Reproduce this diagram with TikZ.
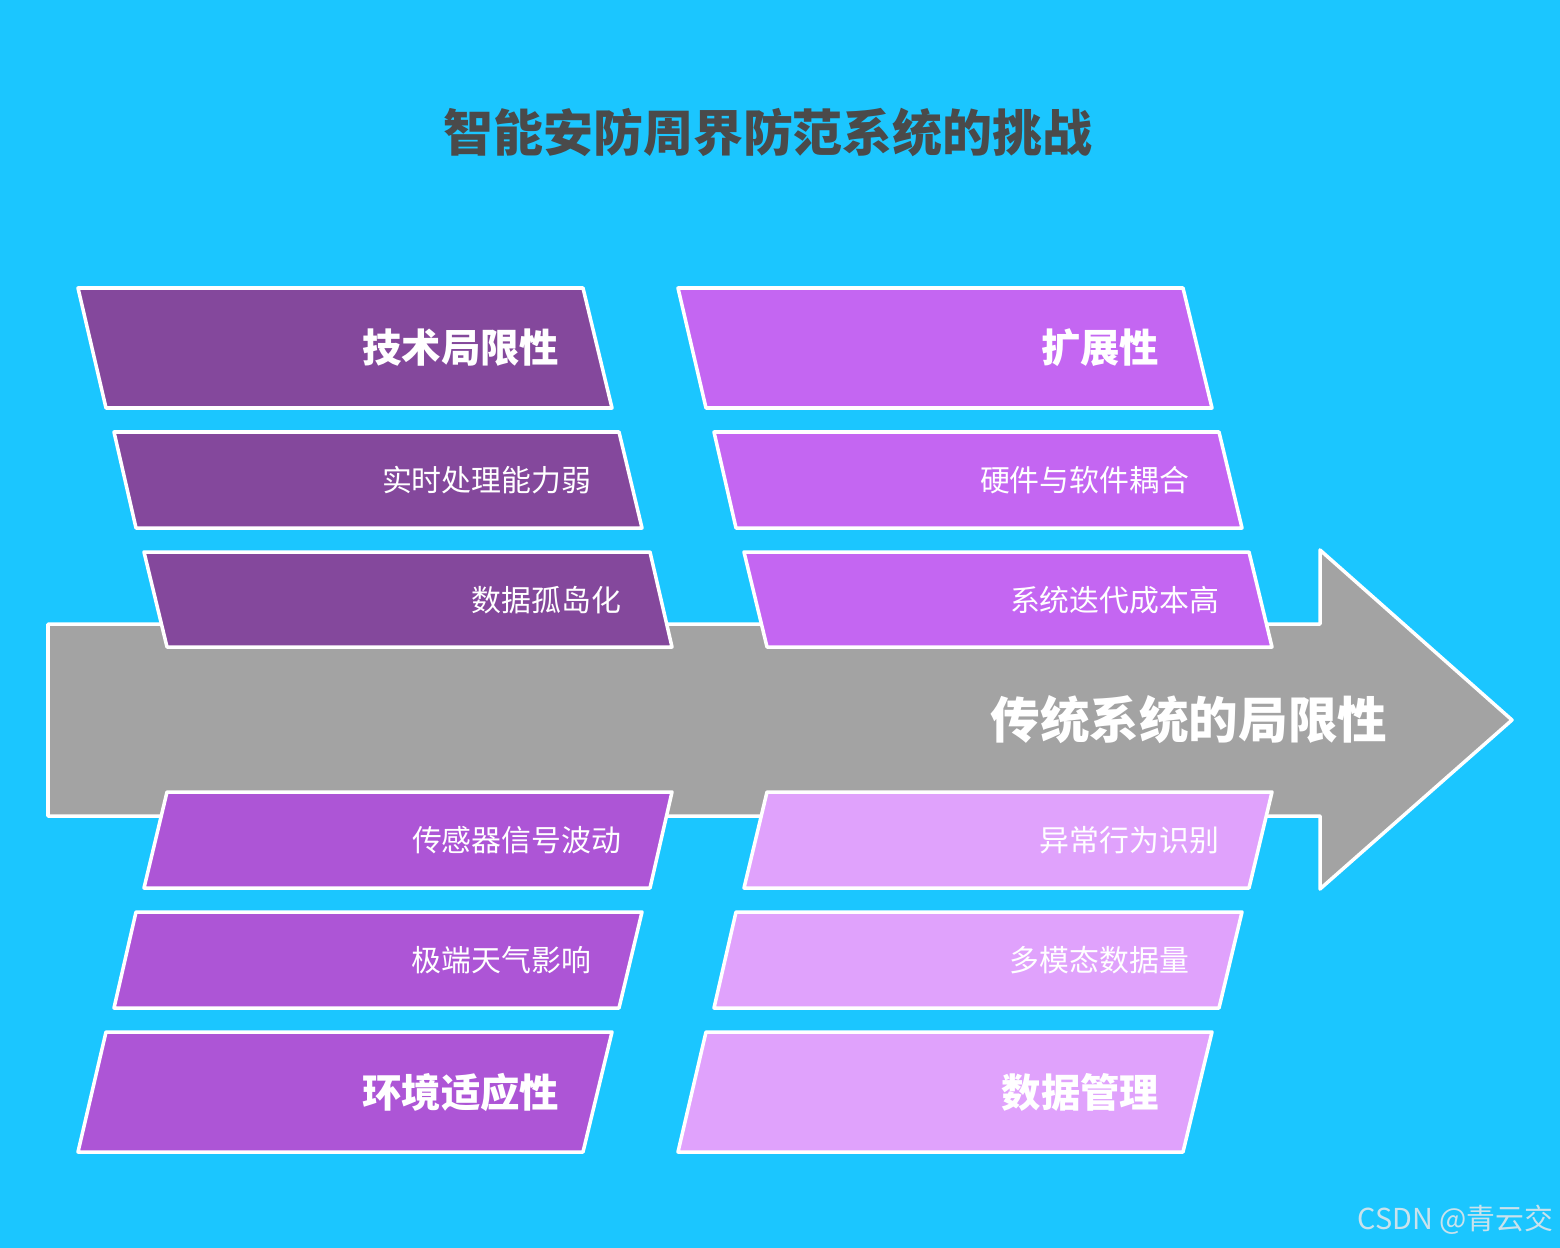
\documentclass[tikz,border=0pt]{standalone}
\usepackage{fontspec}
\setmainfont{Noto Sans CJK SC}
\definecolor{nen}{HTML}{1BC6FF}
\definecolor{xam}{HTML}{A3A3A3}
\definecolor{timdam}{HTML}{84489C}
\definecolor{timsang}{HTML}{C466F2}
\definecolor{timvua}{HTML}{AD55D6}
\definecolor{timnhat}{HTML}{E0A2FC}
\definecolor{chuxam}{HTML}{4A4A4A}
\definecolor{dau}{HTML}{C9E2EC}
\begin{document}
\begin{tikzpicture}[x=0.01cm, y=-0.01cm, line join=round, line width=1pt]
	% 背景
	\fill[nen] (0,0) rectangle (1560,1248);
	\useasboundingbox (0,0) rectangle (1560,1248);
	
	% 标题
	\node[text=chuxam, font=\fontsize{14.2}{16}\selectfont\bfseries] (tieude) at (768,132) {智能安防周界防范系统的挑战};
	
	% 灰色大箭头
	\filldraw[fill=xam, draw=white] (48,624) -- (1320,624) -- (1320,550) -- (1512,720) -- (1320,889) -- (1320,816) -- (48,816) -- cycle;
	\node[anchor=east, inner sep=0, text=white, font=\fontsize{14.1}{16}\selectfont\bfseries] (chinh) at (1389,720) {传统系统的局限性};
	
	% 左上：技术局限性
	\filldraw[fill=timdam, draw=white] (78,288) -- (583,288) -- (612,408) -- (106,408) -- cycle;
	\filldraw[fill=timdam, draw=white] (114,432) -- (619,432) -- (642,528) -- (136,528) -- cycle;
	\filldraw[fill=timdam, draw=white] (144,552) -- (650,552) -- (672,647) -- (167,647) -- cycle;
	\node[anchor=east, inner sep=0, text=white, font=\fontsize{11.2}{13}\selectfont\bfseries] (jishu) at (561,348) {技术局限性};
	\node[anchor=east, inner sep=0, text=white, font=\fontsize{8.5}{10}\selectfont] (shishi) at (593,480) {实时处理能力弱};
	\node[anchor=east, inner sep=0, text=white, font=\fontsize{8.5}{10}\selectfont] (gudao) at (623,600) {数据孤岛化};
	
	% 右上：扩展性
	\filldraw[fill=timsang, draw=white] (678,288) -- (1183,288) -- (1212,408) -- (706,408) -- cycle;
	\filldraw[fill=timsang, draw=white] (714,432) -- (1219,432) -- (1242,528) -- (736,528) -- cycle;
	\filldraw[fill=timsang, draw=white] (744,552) -- (1249,552) -- (1272,647) -- (767,647) -- cycle;
	\node[anchor=east, inner sep=0, text=white, font=\fontsize{11.2}{13}\selectfont\bfseries] (kuozhan) at (1161,348) {扩展性};
	\node[anchor=east, inner sep=0, text=white, font=\fontsize{8.5}{10}\selectfont] (ouhe) at (1191,480) {硬件与软件耦合};
	\node[anchor=east, inner sep=0, text=white, font=\fontsize{8.5}{10}\selectfont] (diedai) at (1221,600) {系统迭代成本高};
	
	% 左下：环境适应性
	\filldraw[fill=timvua, draw=white] (167,792) -- (672,792) -- (650,888) -- (144,888) -- cycle;
	\filldraw[fill=timvua, draw=white] (136,912) -- (642,912) -- (619,1008) -- (114,1008) -- cycle;
	\filldraw[fill=timvua, draw=white] (106,1032) -- (612,1032) -- (583,1152) -- (78,1152) -- cycle;
	\node[anchor=east, inner sep=0, text=white, font=\fontsize{8.5}{10}\selectfont] (bodong) at (623,840) {传感器信号波动};
	\node[anchor=east, inner sep=0, text=white, font=\fontsize{8.5}{10}\selectfont] (tianqi) at (593,960) {极端天气影响};
	\node[anchor=east, inner sep=0, text=white, font=\fontsize{11.2}{13}\selectfont\bfseries] (huanjing) at (561,1092) {环境适应性};
	
	% 右下：数据管理
	\filldraw[fill=timnhat, draw=white] (767,792) -- (1272,792) -- (1249,888) -- (744,888) -- cycle;
	\filldraw[fill=timnhat, draw=white] (736,912) -- (1242,912) -- (1219,1008) -- (714,1008) -- cycle;
	\filldraw[fill=timnhat, draw=white] (706,1032) -- (1212,1032) -- (1183,1152) -- (678,1152) -- cycle;
	\node[anchor=east, inner sep=0, text=white, font=\fontsize{8.5}{10}\selectfont] (shibie) at (1221,840) {异常行为识别};
	\node[anchor=east, inner sep=0, text=white, font=\fontsize{8.5}{10}\selectfont] (duomotai) at (1191,960) {多模态数据量};
	\node[anchor=east, inner sep=0, text=white, font=\fontsize{11.2}{13}\selectfont\bfseries] (guanli) at (1161,1092) {数据管理};
	
	% 水印
	\node[anchor=east, inner sep=0, text=dau, font=\fontsize{8.2}{10}\selectfont] (shuiyin) at (1555,1220) {CSDN @青云交};
\end{tikzpicture}
\end{document}
